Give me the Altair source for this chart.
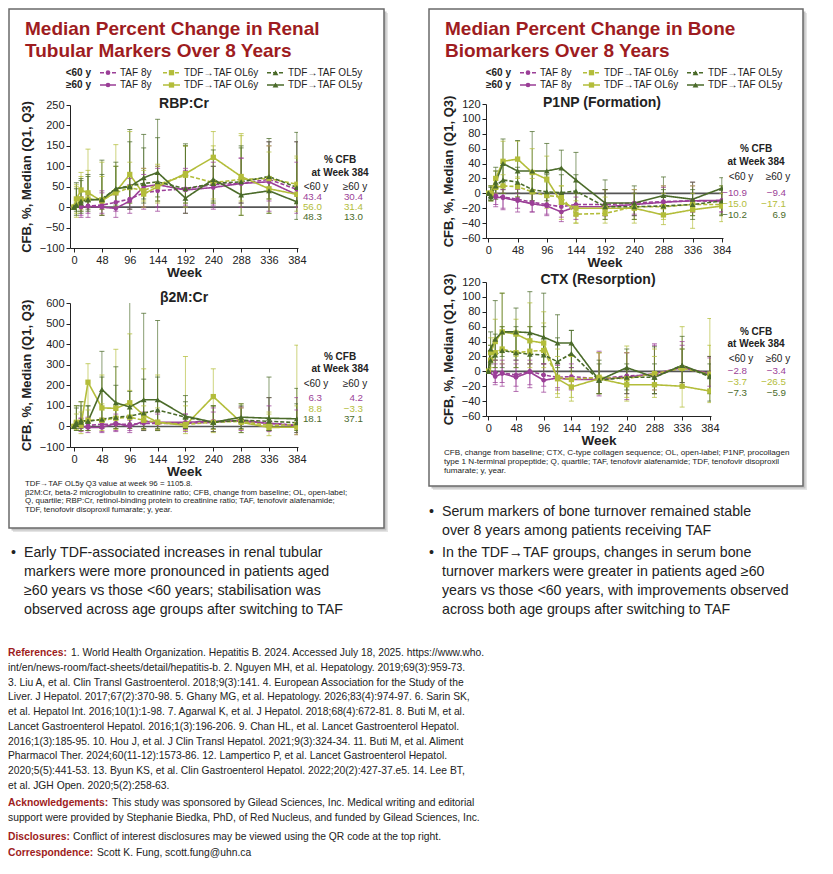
import altair as alt
import pandas as pd

# ------------------------------------------------------------------ data
WEEKS_TAF = [0, 12, 24, 48, 72, 96, 120, 144, 192, 240, 288, 336, 384]
WEEKS_OL = [0, 4, 12, 24, 48, 72, 96, 120, 144, 192, 240, 288, 336, 384]
X_TICKS = [0, 48, 96, 144, 192, 240, 288, 336, 384]
GROUPS = ["TAF 8y", "TDF→TAF OL6y", "TDF→TAF OL5y"]
AGES = ["<60 y", "≥60 y"]

# RBP:Cr
RBP_TAF_LT60_MED = [0, 2, 3, 5, 12, 20, 35, 40, 45, 55, 58, 68, 43.4]
RBP_TAF_LT60_Q1 = [0, -25, -15, -15, -10, -5, 0, 0, 5, 5, 10, 15, 0]
RBP_TAF_LT60_Q3 = [0, 20, 30, 40, 40, 55, 80, 95, 95, 110, 120, 160, 160]
RBP_TAF_GE60_MED = [0, 0, 2, 0, -3, 15, 50, 55, 42, 48, 58, 62, 30.4]
RBP_TAF_GE60_Q1 = [0, -20, -25, -20, -25, -15, -5, -10, -15, -5, 0, -10, -15]
RBP_TAF_GE60_Q3 = [0, 25, 35, 35, 30, 70, 95, 100, 90, 100, 120, 150, 110]
RBP_OL6_LT60_MED = [0, 5, 20, 20, 18, 35, 48, 40, 55, 78, 60, 68, 70, 56.0]
RBP_OL6_LT60_Q1 = [0, -15, -5, 0, -5, 0, 15, 15, 15, 10, 20, 15, 20, 10]
RBP_OL6_LT60_Q3 = [0, 50, 75, 90, 75, 100, 110, 95, 105, 150, 150, 175, 150, 125]
RBP_OL6_GE60_MED = [0, 20, 42, 35, 15, 38, 80, 32, 50, 82, 122, 75, 45, 31.4]
RBP_OL6_GE60_Q1 = [0, -25, -10, 0, -20, 0, 10, 0, 10, 0, 10, -20, -15, -10]
RBP_OL6_GE60_Q3 = [0, 55, 85, 142, 110, 153, 185, 90, 100, 150, 185, 180, 135, 120]
RBP_OL5_LT60_MED = [0, 5, 10, 18, 20, 45, 52, 58, 62, 45, 58, 62, 75, 48.3]
RBP_OL5_LT60_Q1 = [0, -10, -10, -5, -5, 5, 10, 20, 25, 10, 15, 10, 20, 10]
RBP_OL5_LT60_Q3 = [0, 45, 65, 75, 80, 100, 160, 145, 170, 150, 140, 145, 160, 160]
RBP_OL5_GE60_MED = [0, 5, 15, 18, 18, 45, 50, 72, 85, 22, 68, 30, 40, 13.0]
RBP_OL5_GE60_Q1 = [0, -20, -15, -10, -20, 0, -5, 10, 15, -15, 10, -20, -15, -30]
RBP_OL5_GE60_Q3 = [0, 60, 70, 80, 115, 110, 190, 178, 215, 155, 100, 150, 168, 183]

# beta2M:Cr
B2M_TAF_LT60_MED = [0, 5, 5, 10, 10, 10, 15, 15, 15, 20, 30, 15, 6.3]
B2M_TAF_LT60_Q1 = [0, -20, -20, -25, -20, -20, -15, -15, -15, -15, -15, -20, -30]
B2M_TAF_LT60_Q3 = [0, 40, 45, 40, 40, 50, 60, 60, 60, 90, 95, 140, 80]
B2M_TAF_GE60_MED = [0, 0, -5, -5, 15, 0, 25, 20, 20, 25, 25, 15, 4.2]
B2M_TAF_GE60_Q1 = [0, -25, -30, -30, -25, -30, -20, -20, -25, -25, -20, -25, -40]
B2M_TAF_GE60_Q3 = [0, 40, 30, 35, 60, 30, 70, 70, 60, 70, 90, 100, 140]
B2M_OL6_LT60_MED = [0, 15, 20, 30, 30, 40, 45, 30, 20, 10, 20, 25, 5, 8.8]
B2M_OL6_LT60_Q1 = [0, -15, -20, -20, -20, -15, -10, -15, -15, -20, -15, -15, -20, -20]
B2M_OL6_LT60_Q3 = [0, 60, 70, 80, 110, 100, 175, 100, 90, 100, 100, 90, 70, 100]
B2M_OL6_GE60_MED = [0, 20, 5, 215, 90, 88, 115, 55, 20, 5, 145, 20, -5, -3.3]
B2M_OL6_GE60_Q1 = [0, -20, -35, 0, -10, -10, 0, -10, -20, -35, -30, -30, -45, -40]
B2M_OL6_GE60_Q3 = [0, 100, 120, 305, 250, 375, 450, 280, 250, 340, 280, 110, 60, 395]
B2M_OL5_LT60_MED = [0, 10, 20, 25, 35, 45, 50, 65, 80, 45, 20, 30, 25, 18.1]
B2M_OL5_LT60_Q1 = [0, -10, -10, -10, -10, -10, -10, -10, -10, -10, -10, -10, -20, -20]
B2M_OL5_LT60_Q3 = [0, 90, 100, 100, 240, 200, 170, 230, 240, 120, 100, 100, 140, 110]
B2M_OL5_GE60_MED = [0, 20, 30, 25, 180, 115, 95, 130, 130, 50, 20, 45, 40, 37.1]
B2M_OL5_GE60_Q1 = [0, -20, -20, -20, 20, 20, 10, -20, -20, -10, -25, -30, -20, -30]
B2M_OL5_GE60_Q3 = [0, 100, 120, 100, 365, 290, 1105.8, 550, 515, 150, 100, 110, 240, 185]

# P1NP
P1NP_TAF_LT60_MED = [0, -3, -5, -8, -12, -15, -18, -15, -15, -13, -11, -10, -10.9]
P1NP_TAF_LT60_Q1 = [0, -15, -20, -20, -25, -28, -32, -30, -30, -28, -28, -25, -25]
P1NP_TAF_LT60_Q3 = [0, 8, 5, 0, 0, -5, -5, 0, 5, 5, 8, 10, 5]
P1NP_TAF_GE60_MED = [0, -5, -6, -10, -14, -17, -25, -18, -18, -15, -12, -10, -9.4]
P1NP_TAF_GE60_Q1 = [0, -18, -22, -25, -25, -30, -38, -35, -30, -30, -30, -25, -25]
P1NP_TAF_GE60_Q3 = [0, 10, 10, 5, 0, -5, -10, -5, 5, 0, 10, 15, 5]
P1NP_OL6_LT60_MED = [0, 0, 8, 10, 9, 2, -3, -5, -28, -27, -18, -18, -15, -15.0]
P1NP_OL6_LT60_Q1 = [0, -10, -5, 0, -5, -15, -20, -25, -40, -40, -35, -35, -30, -30]
P1NP_OL6_LT60_Q3 = [0, 10, 20, 25, 22, 20, 15, 10, -10, -5, 0, 0, 0, 0]
P1NP_OL6_GE60_MED = [0, 0, 20, 43, 46, 28, 19, -12, -20, -20, -20, -29, -22, -17.1]
P1NP_OL6_GE60_Q1 = [0, -10, 0, 10, 20, 0, -5, -35, -40, -35, -40, -42, -47, -38]
P1NP_OL6_GE60_Q3 = [0, 10, 30, 70, 70, 60, 50, 10, 0, 5, 5, 10, 10, 10]
P1NP_OL5_LT60_MED = [0, -3, 10, 18, 15, 5, 2, 1, 3, -18, -18, -17, -15, -10.2]
P1NP_OL5_LT60_Q1 = [0, -10, -8, 0, -5, -10, -15, -15, -20, -30, -30, -30, -30, -30]
P1NP_OL5_LT60_Q3 = [0, 8, 30, 40, 35, 30, 25, 25, 25, 5, 0, 5, 5, 10]
P1NP_OL5_GE60_MED = [0, -5, 15, 40, 30, 30, 30, 34, 18, -13, -13, -3, -8, 6.9]
P1NP_OL5_GE60_Q1 = [0, -10, -5, 5, 0, -10, -10, -5, -20, -35, -35, -30, -35, -28]
P1NP_OL5_GE60_Q3 = [0, 10, 35, 73, 71, 83, 67, 58, 55, 18, 10, 22, 15, 21]

# CTX
CTX_TAF_LT60_MED = [0, -2, -2, -5, 0, -5, -8, -7, -10, -6, -5, 5, -2.8]
CTX_TAF_LT60_Q1 = [0, -15, -15, -20, -18, -20, -22, -20, -30, -30, -25, -15, -20]
CTX_TAF_LT60_Q3 = [0, 10, 10, 10, 15, 10, 8, 5, 25, 25, 35, 35, 18]
CTX_TAF_GE60_MED = [0, -7, -3, -8, -1, -12, -9, -11, -11, -8, -3, 5, -3.4]
CTX_TAF_GE60_Q1 = [0, -18, -20, -27, -22, -28, -25, -25, -33, -38, -30, -20, -25]
CTX_TAF_GE60_Q3 = [0, 15, 15, 15, 10, 10, 10, 10, 27, 25, 37, 40, 20]
CTX_OL6_LT60_MED = [0, 15, 25, 30, 25, 27, 28, -8, -11, -8, -10, -3, 4, -3.7]
CTX_OL6_LT60_Q1 = [0, 0, 5, 10, 5, 5, 5, -30, -35, -30, -35, -25, -20, -30]
CTX_OL6_LT60_Q3 = [0, 35, 45, 60, 55, 60, 65, 20, 20, 25, 25, 20, 30, 35]
CTX_OL6_GE60_MED = [0, 25, 40, 53, 50, 41, 38, -10, -21, -10, -18, -18, -20, -26.5]
CTX_OL6_GE60_Q1 = [0, 5, 15, 25, 20, 10, 10, -35, -40, -30, -40, -35, -48, -42]
CTX_OL6_GE60_Q3 = [0, 45, 70, 105, 70, 92, 80, 30, 20, 25, 34, 30, 60, 71]
CTX_OL5_LT60_MED = [0, 15, 22, 28, 25, 23, 22, 13, 24, -12, -8, -8, 8, -7.3]
CTX_OL5_LT60_Q1 = [0, 0, 5, 5, 5, 0, -5, -10, 0, -30, -30, -30, -15, -30]
CTX_OL5_LT60_Q3 = [0, 35, 50, 60, 60, 60, 60, 45, 55, 10, 10, 10, 30, 10]
CTX_OL5_GE60_MED = [0, 30, 43, 53, 53, 52, 46, 38, 38, -12, 5, -8, 8, -5.9]
CTX_OL5_GE60_Q1 = [0, 10, 15, 20, 15, 10, 10, 5, 5, -30, -25, -30, -20, -40]
CTX_OL5_GE60_Q3 = [0, 53, 95, 105, 85, 107, 105, 76, 55, 15, 30, 33, 47, 20]

# % CFB at week 384 (order: TAF 8y, TDF->TAF OL6y, TDF->TAF OL5y)
RBP_CFB_LT60 = [43.4, 56.0, 48.3]
RBP_CFB_GE60 = [30.4, 31.4, 13.0]
B2M_CFB_LT60 = [6.3, 8.8, 18.1]
B2M_CFB_GE60 = [4.2, -3.3, 37.1]
P1NP_CFB_LT60 = [-10.9, -15.0, -10.2]
P1NP_CFB_GE60 = [-9.4, -17.1, 6.9]
CTX_CFB_LT60 = [-2.8, -3.7, -7.3]
CTX_CFB_GE60 = [-3.4, -26.5, -5.9]

# ------------------------------------------------------------------ style
PURPLE = "#9b3f97"
LIME = "#b3bd3a"
DKGREEN = "#4b6b2a"
GROUP_COLORS = [PURPLE, LIME, DKGREEN]
GROUP_SHAPES = ["circle", "square", "triangle-up"]
GROUP_SIZES = [22, 34, 40]
DASHES = [[4, 2], [1, 0]]
RED = "#9e1c21"
INK = "#222222"
SANS = "Liberation Sans, Arial, Helvetica, sans-serif"
OX, OY = 8, 8  # page offset of the chart origin


def series_spec(prefix):
    g = globals()
    out = []
    for grp, key, weeks in [("TAF 8y", "TAF", WEEKS_TAF),
                            ("TDF→TAF OL6y", "OL6", WEEKS_OL),
                            ("TDF→TAF OL5y", "OL5", WEEKS_OL)]:
        for age, akey in [("<60 y", "LT60"), ("≥60 y", "GE60")]:
            base = f"{prefix}_{key}_{akey}"
            out.append((grp, age, weeks, g[base + "_MED"], g[base + "_Q1"], g[base + "_Q3"]))
    return out


def series_table(spec):
    rows = []
    for grp, age, weeks, med, q1, q3 in spec:
        for w, m, a, b in zip(weeks, med, q1, q3):
            rows.append(dict(week=w, med=m, q1=a, q3=b, group=grp, age=age,
                             series=grp + " " + age))
    return pd.DataFrame(rows)


def panel(prefix, ydom, ystep, width, height, xdom):
    df = series_table(series_spec(prefix))
    xs = alt.Scale(domain=xdom, nice=False, zero=False)
    ys = alt.Scale(domain=ydom, nice=False, zero=False)
    xax = alt.Axis(values=X_TICKS, title="Week", labelFontSize=11, titleFontSize=13.5,
                   titleFontWeight="bold", titlePadding=0, labelPadding=2, tickSize=4,
                   grid=False, domainColor=INK, tickColor=INK, labelColor=INK,
                   titleColor=INK, labelFont=SANS, titleFont=SANS)
    yax = alt.Axis(values=list(range(ydom[0], ydom[1] + 1, ystep)),
                   title="CFB, %, Median (Q1, Q3)", labelFontSize=11, titleFontSize=13,
                   titleFontWeight="bold", titlePadding=6, labelPadding=2, tickSize=4,
                   grid=False, domainColor=INK, tickColor=INK, labelColor=INK,
                   titleColor=INK, labelFont=SANS, titleFont=SANS)
    X = alt.X("week:Q", scale=xs, axis=xax)
    col = alt.Color("group:N", scale=alt.Scale(domain=GROUPS, range=GROUP_COLORS), legend=None)
    dash = alt.StrokeDash("age:N", scale=alt.Scale(domain=AGES, range=DASHES), legend=None)
    shape = alt.Shape("group:N", scale=alt.Scale(domain=GROUPS, range=GROUP_SHAPES), legend=None)
    size = alt.Size("group:N", scale=alt.Scale(domain=GROUPS, range=GROUP_SIZES), legend=None)
    base = alt.Chart(df)
    zero = alt.Chart(pd.DataFrame({"zero": [0]})).mark_rule(color="#555555", strokeWidth=1.6).encode(
        y=alt.Y("zero:Q", scale=ys, axis=yax))
    bars = base.mark_rule(strokeWidth=1, opacity=0.65, clip=True).encode(
        x=X, y=alt.Y("q1:Q", scale=ys, axis=yax), y2="q3:Q", color=col, detail="series:N")
    cap_lo = base.mark_tick(orient="horizontal", size=5, thickness=1, opacity=0.75, clip=True).encode(
        x=X, y=alt.Y("q1:Q", scale=ys, axis=yax), color=col)
    cap_hi = base.mark_tick(orient="horizontal", size=5, thickness=1, opacity=0.75, clip=True).encode(
        x=X, y=alt.Y("q3:Q", scale=ys, axis=yax), color=col)
    lines = base.mark_line(strokeWidth=1.6, clip=True).encode(
        x=X, y=alt.Y("med:Q", scale=ys, axis=yax), color=col, strokeDash=dash,
        detail="series:N", order="week:Q")
    pts = base.mark_point(filled=True, opacity=1, clip=True).encode(
        x=X, y=alt.Y("med:Q", scale=ys, axis=yax), color=col, shape=shape, size=size)
    return alt.layer(zero, bars, cap_lo, cap_hi, lines, pts).properties(width=width, height=height)


def spacer(w, h):
    return alt.Chart(pd.DataFrame({"a": [0]})).mark_point(opacity=0, size=1).encode(
        x=alt.value(w / 2), y=alt.value(h / 2)).properties(width=w, height=h)


# ------------------------------------------------------------------ canvas (boxes, titles, text)
texts = {}


def add(style, x, y, text, size, color=INK):
    texts.setdefault(style, []).append(dict(x=x - OX, y=y - OY, text=text, size=size, color=color))


def fmt(v):
    return f"{v:.1f}".replace("-", "−")


B_TITLE = (SANS, "bold", "left", "alphabetic")
B_LEFT = (SANS, "bold", "left", "middle")
B_RIGHT = (SANS, "bold", "right", "middle")
B_CENTER = (SANS, "bold", "center", "middle")
R_LEFT = (SANS, "normal", "left", "middle")
R_RIGHT = (SANS, "normal", "right", "middle")
R_CENTER = (SANS, "normal", "center", "middle")

for dx, l1, l2 in [(0, "Median Percent Change in Renal", "Tubular Markers Over 8 Years"),
                   (420, "Median Percent Change in Bone", "Biomarkers Over 8 Years")]:
    add(B_TITLE, 25 + dx, 35, l1, 19, RED)
    add(B_TITLE, 25 + dx, 56.5, l2, 19, RED)
    for ry, age in zip([72.7, 85], AGES):
        add(B_RIGHT, 91 + dx, ry, age, 10)
        for gx, grp in zip([120, 184, 288], GROUPS):
            add(R_LEFT, gx + dx, ry, grp, 10)

add(B_CENTER, 184, 104, "RBP:Cr", 14)
add(B_CENTER, 184, 298, "β2M:Cr", 14)
add(B_CENTER, 602, 103, "P1NP (Formation)", 14)
add(B_CENTER, 598, 280, "CTX (Resorption)", 14)

for cx, lx, gx, ys, lt, ge in [
        (340, 322, 363, [160, 172.7, 186.7, 197.3, 207, 216.5], RBP_CFB_LT60, RBP_CFB_GE60),
        (340, 322, 363, [357.3, 369.3, 384, 398.3, 409, 419.3], B2M_CFB_LT60, B2M_CFB_GE60),
        (756, 747, 786, [149, 161.5, 177, 193, 204, 215], P1NP_CFB_LT60, P1NP_CFB_GE60),
        (756, 747, 786, [332, 343.5, 359, 371, 382, 392.5], CTX_CFB_LT60, CTX_CFB_GE60)]:
    add(B_CENTER, cx, ys[0], "% CFB", 10)
    add(B_CENTER, cx, ys[1], "at Week 384", 10)
    add(R_CENTER, lx - 6, ys[2], "<60 y", 10)
    add(R_CENTER, gx - 8, ys[2], "≥60 y", 10)
    for i in range(3):
        add(R_RIGHT, lx, ys[3 + i], fmt(lt[i]), 9.8, GROUP_COLORS[i])
        add(R_RIGHT, gx, ys[3 + i], fmt(ge[i]), 9.8, GROUP_COLORS[i])

q3_96 = B2M_OL5_GE60_Q3[WEEKS_OL.index(96)]
foot_left = [f"TDF→TAF OL5y Q3 value at week 96 = {q3_96}.",
             "β2M:Cr, beta-2 microglobulin to creatinine ratio; CFB, change from baseline; OL, open-label;",
             "Q, quartile; RBP:Cr, retinol-binding protein to creatinine ratio; TAF, tenofovir alafenamide;",
             "TDF, tenofovir disoproxil fumarate; y, year."]
for i, t in enumerate(foot_left):
    add(R_LEFT, 25, 484 + 8.5 * i, t, 7.9)
foot_right = ["CFB, change from baseline; CTX, C-type collagen sequence; OL, open-label; P1NP, procollagen",
              "type 1 N-terminal propeptide; Q, quartile; TAF, tenofovir alafenamide; TDF, tenofovir disoproxil",
              "fumarate; y, year."]
for i, t in enumerate(foot_right):
    add(R_LEFT, 444, 453 + 9 * i, t, 8.1)

BS = 14.2
bul_left = ["Early TDF-associated increases in renal tubular",
            "markers were more pronounced in patients aged",
            "≥60 years vs those <60 years; stabilisation was",
            "observed across age groups after switching to TAF"]
add(R_LEFT, 11, 552.7, "•", BS)
for i, t in enumerate(bul_left):
    add(R_LEFT, 24, 552.7 + 19.2 * i, t, BS)
bul_r1 = ["Serum markers of bone turnover remained stable",
          "over 8 years among patients receiving TAF"]
bul_r2 = ["In the TDF→TAF groups, changes in serum bone",
          "turnover markers were greater in patients aged ≥60",
          "years vs those <60 years, with improvements observed",
          "across both age groups after switching to TAF"]
add(R_LEFT, 429, 511.7, "•", BS)
for i, t in enumerate(bul_r1):
    add(R_LEFT, 442, 511.7 + 19.2 * i, t, BS)
add(R_LEFT, 429, 552.7, "•", BS)
for i, t in enumerate(bul_r2):
    add(R_LEFT, 442, 552.7 + 19.2 * i, t, BS)

refs = ["1. World Health Organization. Hepatitis B. 2024. Accessed July 18, 2025. https://www.who.",
        "int/en/news-room/fact-sheets/detail/hepatitis-b. 2. Nguyen MH, et al. Hepatology. 2019;69(3):959-73.",
        "3. Liu A, et al. Clin Transl Gastroenterol. 2018;9(3):141. 4. European Association for the Study of the",
        "Liver. J Hepatol. 2017;67(2):370-98. 5. Ghany MG, et al. Hepatology. 2026;83(4):974-97. 6. Sarin SK,",
        "et al. Hepatol Int. 2016;10(1):1-98. 7. Agarwal K, et al. J Hepatol. 2018;68(4):672-81. 8. Buti M, et al.",
        "Lancet Gastroenterol Hepatol. 2016;1(3):196-206. 9. Chan HL, et al. Lancet Gastroenterol Hepatol.",
        "2016;1(3):185-95. 10. Hou J, et al. J Clin Transl Hepatol. 2021;9(3):324-34. 11. Buti M, et al. Aliment",
        "Pharmacol Ther. 2024;60(11-12):1573-86. 12. Lampertico P, et al. Lancet Gastroenterol Hepatol.",
        "2020;5(5):441-53. 13. Byun KS, et al. Clin Gastroenterol Hepatol. 2022;20(2):427-37.e5. 14. Lee BT,",
        "et al. JGH Open. 2020;5(2):258-63."]
RS = 10.3
add(B_LEFT, 8, 653.3, "References:", RS, RED)
for i, t in enumerate(refs):
    add(R_LEFT, 71 if i == 0 else 8, 653.3 + 14.7 * i, t, RS)
add(B_LEFT, 8, 803.3, "Acknowledgements:", RS, RED)
add(R_LEFT, 112, 803.3, "This study was sponsored by Gilead Sciences, Inc. Medical writing and editorial", RS)
add(R_LEFT, 8, 817.7, "support were provided by Stephanie Biedka, PhD, of Red Nucleus, and funded by Gilead Sciences, Inc.", RS)
add(B_LEFT, 8, 836.7, "Disclosures:", RS, RED)
add(R_LEFT, 73, 836.7, "Conflict of interest disclosures may be viewed using the QR code at the top right.", RS)
add(B_LEFT, 8, 853.3, "Correspondence:", RS, RED)
add(R_LEFT, 97, 853.3, "Scott K. Fung, scott.fung@uhn.ca", RS)

IX = alt.X("x:Q", scale=None, axis=None)
IY = alt.Y("y:Q", scale=None, axis=None)

layers = []
boxes = pd.DataFrame({"x": [9 - OX, 429 - OX], "x2": [384 - OX, 803 - OX],
                      "y": [9 - OY, 9 - OY], "y2": [528 - OY, 486 - OY]})
for off, fill in [(4, "#e4e4e4"), (2.5, "#c4c4c4")]:
    sh = boxes.copy()
    for c in ["x", "x2", "y", "y2"]:
        sh[c] = sh[c] + off
    layers.append(alt.Chart(sh).mark_rect(fill=fill).encode(x=IX, x2="x2:Q", y=IY, y2="y2:Q"))
layers.append(alt.Chart(boxes).mark_rect(fill="white", stroke="#6a6a6a", strokeWidth=1.5).encode(
    x=IX, x2="x2:Q", y=IY, y2="y2:Q"))

# legend glyphs
leg_rows = []
for dx in [0, 420]:
    for (x1, x2), grp, colr, shp in zip([(100, 116), (163, 180), (267, 284)], GROUPS,
                                        GROUP_COLORS, GROUP_SHAPES):
        for ry, age in zip([72.7, 85], AGES):
            leg_rows.append(dict(x=x1 + dx - OX, x2=x2 + dx - OX, xm=(x1 + x2) / 2 + dx - OX,
                                 y=ry - OY, color=colr, shape=shp, age=age, group=grp))
leg = pd.DataFrame(leg_rows)
layers.append(alt.Chart(leg).mark_rule(strokeWidth=1.6).encode(
    x=IX, x2="x2:Q", y=IY, color=alt.Color("color:N", scale=None),
    strokeDash=alt.StrokeDash("age:N", scale=alt.Scale(domain=AGES, range=DASHES), legend=None)))
layers.append(alt.Chart(leg).mark_point(filled=True, opacity=1).encode(
    x=alt.X("xm:Q", scale=None, axis=None), y=IY, color=alt.Color("color:N", scale=None),
    shape=alt.Shape("shape:N", scale=None),
    size=alt.Size("group:N", scale=alt.Scale(domain=GROUPS, range=GROUP_SIZES), legend=None)))

for (font, weight, align, baseline), items in texts.items():
    df = pd.DataFrame(items)
    layers.append(alt.Chart(df).mark_text(font=font, fontWeight=weight, align=align,
                                          baseline=baseline).encode(
        x=IX, y=IY, text="text:N", color=alt.Color("color:N", scale=None),
        size=alt.Size("size:Q", scale=None, legend=None)))

canvas = alt.layer(*layers).properties(width=62, height=850)

# ------------------------------------------------------------------ panels
rbp = panel("RBP", [-100, 250], 50, 228, 143, [-7, 386])
b2m = panel("B2M", [-100, 600], 100, 228, 144, [-7, 386])
p1np = panel("P1NP", [-60, 120], 20, 237, 134, [-4, 386])
ctx = panel("CTX", [-60, 120], 20, 225, 134, [-4, 386])

left_col = alt.vconcat(spacer(228, 42), rbp, b2m, spacing=55, bounds="flush")
right_col = alt.vconcat(spacer(237, 52), p1np, ctx, spacing=44, bounds="flush")

# in a flush layout a nested column adds no width, so the gap spacer spans the left panels too
chart = alt.hconcat(canvas, left_col, spacer(416, 10), right_col, spacing=0,
                    bounds="flush", padding=0).configure_view(stroke=None)

chart.save("out.html", embed_options={"renderer": "svg", "actions": False})
